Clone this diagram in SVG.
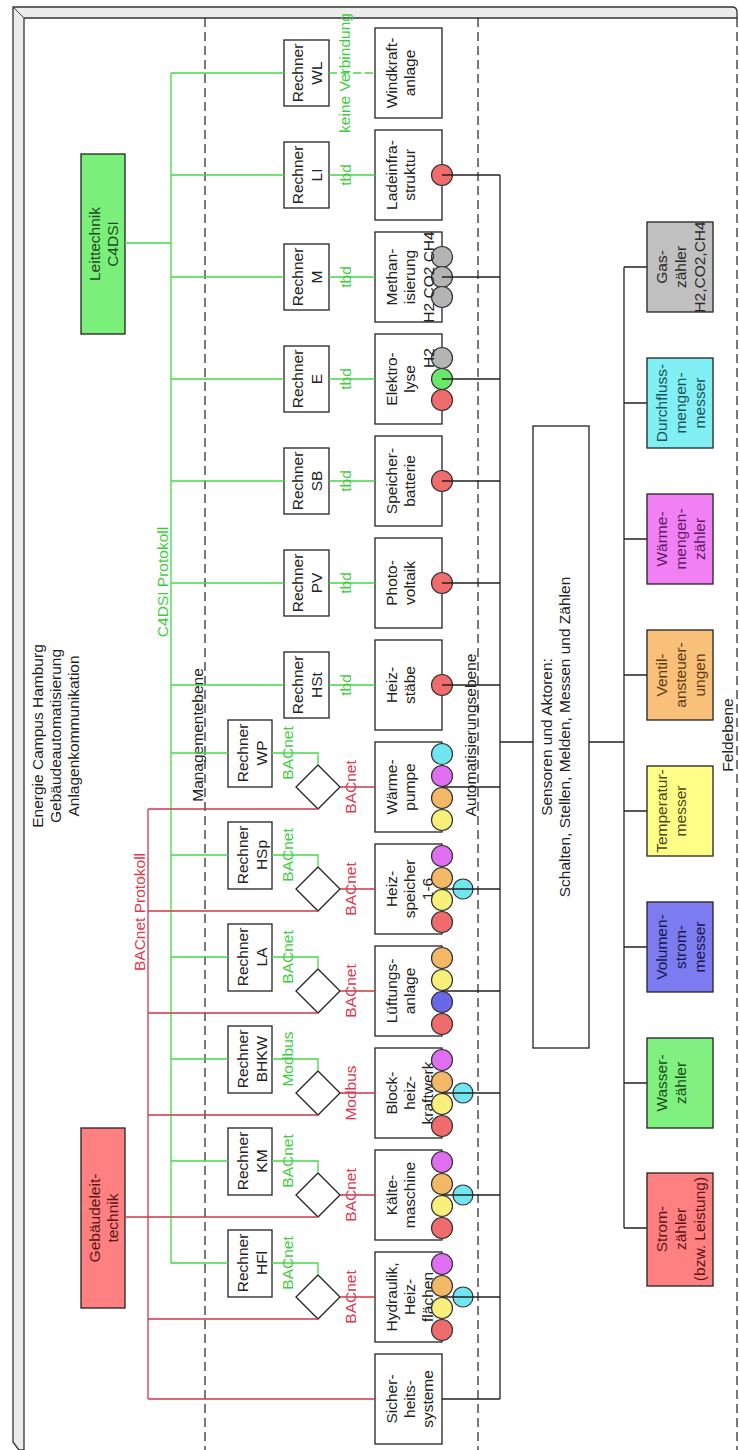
<svg xmlns="http://www.w3.org/2000/svg" width="739" height="1450" viewBox="0 0 739 1450">
<style>
.t{font-family:"Liberation Sans",Arial,sans-serif;font-size:15.5px;fill:#222;text-anchor:middle}
.box{fill:#fff;stroke:#222;stroke-width:1.3}
.cg{fill:none;stroke:#45d845;stroke-width:1.3}
.cr{fill:none;stroke:#cc3a4c;stroke-width:1.3}
.ck{fill:none;stroke:#222;stroke-width:1.3}
.gt{fill:#3fcc3f}
.rt{fill:#e0384c}
.lvl{stroke:#222;stroke-width:1.2;stroke-dasharray:9 5}
.dot{stroke:#333;stroke-width:1.2}
.red{fill:#f06c6c}.ora{fill:#f2b866}.yel{fill:#f8f07a}.mag{fill:#e06ef0}.cya{fill:#70e6f0}.blu{fill:#6868e8}.grn{fill:#6ae86a}.gry{fill:#b4b4b4}
</style>

<!-- page frame -->
<rect x="0" y="0" width="739" height="1450" fill="#fff"/>
<path d="M13,7 H732 Q737,7 737,12 V18 H24 V1450 H19 L13,1442 Z" fill="#ececec" stroke="#333" stroke-width="1.3"/>
<line x1="13" y1="7" x2="24" y2="18" stroke="#444" stroke-width="1"/>
<line x1="737" y1="18" x2="737" y2="1450" class="lvl" stroke-width="1.5"/>

<!-- level separators -->
<line x1="205" y1="18" x2="205" y2="1450" class="lvl"/>
<line x1="478" y1="18" x2="478" y2="1450" class="lvl"/>

<g id="labels">
  <text class="t" transform="rotate(-90)"><tspan x="-736" y="43">Energie Campus Hamburg</tspan><tspan x="-736" y="61">Gebäudeautomatisierung</tspan><tspan x="-736" y="79">Anlagenkommunikation</tspan></text>
  <text class="t" transform="rotate(-90)" x="-735" y="203">Managementebene</text>
  <text class="t" transform="rotate(-90)" x="-735" y="476">Automatisierungsebene</text>
  <text class="t" transform="rotate(-90)" x="-735" y="733">Feldebene</text>
</g>

<!-- head-end systems -->
<g id="leittechnik">
  <rect x="81" y="154" width="44" height="180" fill="#7af07a" stroke="#222" stroke-width="1.3"/>
  <text class="t" transform="rotate(-90)" style="fill:#1d4a1d"><tspan x="-244" y="100">Leittechnik</tspan><tspan x="-244" y="118">C4DSI</tspan></text>
</g>
<g id="gebaeudeleittechnik">
  <rect x="81" y="1128" width="44" height="180" fill="#ff8080" stroke="#222" stroke-width="1.3"/>
  <text class="t" transform="rotate(-90)" style="fill:#5a1414"><tspan x="-1218" y="100">Gebäudeleit-</tspan><tspan x="-1218" y="118">technik</tspan></text>
</g>

<!-- C4DSI computers -->
<g id="rechner-wl"><rect class="box" x="284" y="40" width="45" height="66"/><text class="t" transform="rotate(-90)"><tspan x="-73" y="303">Rechner</tspan><tspan x="-73" y="322">WL</tspan></text></g>
<g id="rechner-li"><rect class="box" x="284" y="142" width="45" height="66"/><text class="t" transform="rotate(-90)"><tspan x="-175" y="303">Rechner</tspan><tspan x="-175" y="322">LI</tspan></text></g>
<g id="rechner-m"><rect class="box" x="284" y="244" width="45" height="66"/><text class="t" transform="rotate(-90)"><tspan x="-277" y="303">Rechner</tspan><tspan x="-277" y="322">M</tspan></text></g>
<g id="rechner-e"><rect class="box" x="284" y="346" width="45" height="66"/><text class="t" transform="rotate(-90)"><tspan x="-379" y="303">Rechner</tspan><tspan x="-379" y="322">E</tspan></text></g>
<g id="rechner-sb"><rect class="box" x="284" y="448" width="45" height="66"/><text class="t" transform="rotate(-90)"><tspan x="-481" y="303">Rechner</tspan><tspan x="-481" y="322">SB</tspan></text></g>
<g id="rechner-pv"><rect class="box" x="284" y="550" width="45" height="66"/><text class="t" transform="rotate(-90)"><tspan x="-583" y="303">Rechner</tspan><tspan x="-583" y="322">PV</tspan></text></g>
<g id="rechner-hst"><rect class="box" x="284" y="652" width="45" height="66"/><text class="t" transform="rotate(-90)"><tspan x="-685" y="303">Rechner</tspan><tspan x="-685" y="322">HSt</tspan></text></g>

<!-- BACnet / Modbus computers -->
<g id="rechner-wp"><rect class="box" x="228" y="720" width="44" height="67"/><text class="t" transform="rotate(-90)"><tspan x="-753" y="248">Rechner</tspan><tspan x="-753" y="267">WP</tspan></text></g>
<g id="rechner-hsp"><rect class="box" x="228" y="822" width="44" height="67"/><text class="t" transform="rotate(-90)"><tspan x="-855" y="248">Rechner</tspan><tspan x="-855" y="267">HSp</tspan></text></g>
<g id="rechner-la"><rect class="box" x="228" y="924" width="44" height="67"/><text class="t" transform="rotate(-90)"><tspan x="-957" y="248">Rechner</tspan><tspan x="-957" y="267">LA</tspan></text></g>
<g id="rechner-bhkw"><rect class="box" x="228" y="1026" width="44" height="67"/><text class="t" transform="rotate(-90)"><tspan x="-1059" y="248">Rechner</tspan><tspan x="-1059" y="267">BHKW</tspan></text></g>
<g id="rechner-km"><rect class="box" x="228" y="1128" width="44" height="67"/><text class="t" transform="rotate(-90)"><tspan x="-1161" y="248">Rechner</tspan><tspan x="-1161" y="267">KM</tspan></text></g>
<g id="rechner-hfl"><rect class="box" x="228" y="1230" width="44" height="67"/><text class="t" transform="rotate(-90)"><tspan x="-1263" y="248">Rechner</tspan><tspan x="-1263" y="267">HFl</tspan></text></g>

<!-- protocol gateways -->
<g id="gateways" class="box">
  <polygon points="318,765 340,787 318,809 296,787"/>
  <polygon points="318,867 340,889 318,911 296,889"/>
  <polygon points="318,969 340,991 318,1013 296,991"/>
  <polygon points="318,1071 340,1093 318,1115 296,1093"/>
  <polygon points="318,1173 340,1195 318,1217 296,1195"/>
  <polygon points="318,1275 340,1297 318,1319 296,1297"/>
</g>

<!-- plants -->
<g id="windkraftanlage"><rect class="box" x="375" y="28" width="67" height="90"/><text class="t" transform="rotate(-90)"><tspan x="-73" y="397">Windkraft-</tspan><tspan x="-73" y="415">anlage</tspan></text></g>
<g id="ladeinfrastruktur"><rect class="box" x="375" y="130" width="67" height="90"/><text class="t" transform="rotate(-90)"><tspan x="-175" y="397">Ladeinfra-</tspan><tspan x="-175" y="415">struktur</tspan></text>
  <circle class="dot red" cx="442" cy="175" r="10.5"/></g>
<g id="methanisierung"><rect class="box" x="375" y="232" width="67" height="90"/>
  <circle class="dot gry" cx="442" cy="257" r="10.5"/><circle class="dot gry" cx="442" cy="277" r="10.5"/><circle class="dot gry" cx="442" cy="297" r="10.5"/>
  <text class="t" transform="rotate(-90)"><tspan x="-277" y="397">Methan-</tspan><tspan x="-277" y="415">isierung</tspan><tspan x="-277" y="434">H2 CO2 CH4</tspan></text></g>
<g id="elektrolyse"><rect class="box" x="375" y="334" width="67" height="90"/>
  <circle class="dot gry" cx="442" cy="358" r="10.5"/><circle class="dot grn" cx="442" cy="379" r="10.5"/><circle class="dot red" cx="442" cy="400" r="10.5"/>
  <text class="t" transform="rotate(-90)"><tspan x="-379" y="397">Elektro-</tspan><tspan x="-379" y="415">lyse</tspan><tspan x="-358" y="434">H2</tspan></text></g>
<g id="speicherbatterie"><rect class="box" x="375" y="436" width="67" height="90"/><text class="t" transform="rotate(-90)"><tspan x="-481" y="397">Speicher-</tspan><tspan x="-481" y="415">batterie</tspan></text>
  <circle class="dot red" cx="442" cy="481" r="10.5"/></g>
<g id="photovoltaik"><rect class="box" x="375" y="538" width="67" height="90"/><text class="t" transform="rotate(-90)"><tspan x="-583" y="397">Photo-</tspan><tspan x="-583" y="415">voltaik</tspan></text>
  <circle class="dot red" cx="442" cy="583" r="10.5"/></g>
<g id="heizstaebe"><rect class="box" x="375" y="640" width="67" height="90"/><text class="t" transform="rotate(-90)"><tspan x="-685" y="397">Heiz-</tspan><tspan x="-685" y="415">stäbe</tspan></text>
  <circle class="dot red" cx="442" cy="685" r="10.5"/></g>
<g id="waermepumpe"><rect class="box" x="375" y="742" width="67" height="90"/><text class="t" transform="rotate(-90)"><tspan x="-787" y="397">Wärme-</tspan><tspan x="-787" y="415">pumpe</tspan></text>
  <circle class="dot cya" cx="442" cy="754" r="10.5"/><circle class="dot mag" cx="442" cy="776" r="10.5"/><circle class="dot ora" cx="442" cy="798" r="10.5"/><circle class="dot yel" cx="442" cy="820" r="10.5"/></g>
<g id="heizspeicher"><rect class="box" x="375" y="844" width="67" height="90"/><text class="t" transform="rotate(-90)"><tspan x="-889" y="397">Heiz-</tspan><tspan x="-889" y="415">speicher</tspan><tspan x="-889" y="433">1-6</tspan></text>
  <circle class="dot mag" cx="442" cy="856" r="10.5"/><circle class="dot ora" cx="442" cy="878" r="10.5"/><circle class="dot yel" cx="442" cy="900" r="10.5"/><circle class="dot red" cx="442" cy="922" r="10.5"/>
  <circle class="dot cya" cx="463" cy="889" r="10"/></g>
<g id="lueftungsanlage"><rect class="box" x="375" y="946" width="67" height="90"/><text class="t" transform="rotate(-90)"><tspan x="-991" y="397">Lüftungs-</tspan><tspan x="-991" y="415">anlage</tspan></text>
  <circle class="dot ora" cx="442" cy="958" r="10.5"/><circle class="dot yel" cx="442" cy="980" r="10.5"/><circle class="dot blu" cx="442" cy="1002" r="10.5"/><circle class="dot red" cx="442" cy="1024" r="10.5"/></g>
<g id="blockheizkraftwerk"><rect class="box" x="375" y="1048" width="67" height="90"/><text class="t" transform="rotate(-90)"><tspan x="-1093" y="397">Block-</tspan><tspan x="-1093" y="415">heiz-</tspan><tspan x="-1093" y="433">kraftwerk</tspan></text>
  <circle class="dot mag" cx="442" cy="1060" r="10.5"/><circle class="dot ora" cx="442" cy="1082" r="10.5"/><circle class="dot yel" cx="442" cy="1104" r="10.5"/><circle class="dot red" cx="442" cy="1126" r="10.5"/>
  <circle class="dot cya" cx="463" cy="1093" r="10"/></g>
<g id="kaeltemaschine"><rect class="box" x="375" y="1150" width="67" height="90"/><text class="t" transform="rotate(-90)"><tspan x="-1195" y="397">Kälte-</tspan><tspan x="-1195" y="415">maschine</tspan></text>
  <circle class="dot mag" cx="442" cy="1162" r="10.5"/><circle class="dot ora" cx="442" cy="1184" r="10.5"/><circle class="dot yel" cx="442" cy="1206" r="10.5"/><circle class="dot red" cx="442" cy="1228" r="10.5"/>
  <circle class="dot cya" cx="463" cy="1195" r="10"/></g>
<g id="hydraulik"><rect class="box" x="375" y="1252" width="67" height="90"/><text class="t" transform="rotate(-90)"><tspan x="-1297" y="397">Hydraulik,</tspan><tspan x="-1297" y="415">Heiz-</tspan><tspan x="-1297" y="433">flächen</tspan></text>
  <circle class="dot mag" cx="442" cy="1264" r="10.5"/><circle class="dot ora" cx="442" cy="1286" r="10.5"/><circle class="dot yel" cx="442" cy="1308" r="10.5"/><circle class="dot red" cx="442" cy="1330" r="10.5"/>
  <circle class="dot cya" cx="463" cy="1297" r="10"/></g>
<g id="sicherheitssysteme"><rect class="box" x="375" y="1354" width="67" height="90"/><text class="t" transform="rotate(-90)"><tspan x="-1399" y="397">Sicher-</tspan><tspan x="-1399" y="415">heits-</tspan><tspan x="-1399" y="433">systeme</tspan></text></g>

<!-- sensors and actuators -->
<g id="sensoren"><rect class="box" x="533" y="426" width="56" height="622"/><text class="t" transform="rotate(-90)"><tspan x="-737" y="552">Sensoren und Aktoren:</tspan><tspan x="-737" y="570">Schalten, Stellen, Melden, Messen und Zählen</tspan></text></g>

<!-- field devices -->
<g id="gaszaehler"><rect x="647" y="222" width="66" height="90" fill="#c0c0c0" stroke="#222" stroke-width="1.3"/><text class="t" transform="rotate(-90)" style="fill:#2a2a2a"><tspan x="-267" y="667">Gas-</tspan><tspan x="-267" y="686">zähler</tspan><tspan x="-267" y="705">H2,CO2,CH4</tspan></text></g>
<g id="durchflussmengenmesser"><rect x="647" y="358" width="66" height="90" fill="#80f0f4" stroke="#222" stroke-width="1.3"/><text class="t" transform="rotate(-90)" style="fill:#1a5458"><tspan x="-403" y="667">Durchfluss-</tspan><tspan x="-403" y="686">mengen-</tspan><tspan x="-403" y="705">messer</tspan></text></g>
<g id="waermemengenzaehler"><rect x="647" y="494" width="66" height="90" fill="#f080f4" stroke="#222" stroke-width="1.3"/><text class="t" transform="rotate(-90)" style="fill:#5e1a62"><tspan x="-539" y="667">Wärme-</tspan><tspan x="-539" y="686">mengen-</tspan><tspan x="-539" y="705">zähler</tspan></text></g>
<g id="ventilansteuerungen"><rect x="647" y="630" width="66" height="90" fill="#f8c078" stroke="#222" stroke-width="1.3"/><text class="t" transform="rotate(-90)" style="fill:#5c3a14"><tspan x="-675" y="667">Ventil-</tspan><tspan x="-675" y="686">ansteuer-</tspan><tspan x="-675" y="705">ungen</tspan></text></g>
<g id="temperaturmesser"><rect x="647" y="766" width="66" height="90" fill="#ffff88" stroke="#222" stroke-width="1.3"/><text class="t" transform="rotate(-90)" style="fill:#4a4818"><tspan x="-811" y="667">Temperatur-</tspan><tspan x="-811" y="686">messer</tspan></text></g>
<g id="volumenstrommesser"><rect x="647" y="902" width="66" height="90" fill="#7c7cf0" stroke="#222" stroke-width="1.3"/><text class="t" transform="rotate(-90)" style="fill:#16164e"><tspan x="-947" y="667">Volumen-</tspan><tspan x="-947" y="686">strom-</tspan><tspan x="-947" y="705">messer</tspan></text></g>
<g id="wasserzaehler"><rect x="647" y="1038" width="66" height="90" fill="#80f080" stroke="#222" stroke-width="1.3"/><text class="t" transform="rotate(-90)" style="fill:#164e16"><tspan x="-1083" y="667">Wasser-</tspan><tspan x="-1083" y="686">zähler</tspan></text></g>
<g id="stromzaehler"><rect x="647" y="1173" width="66" height="113" fill="#ff8080" stroke="#222" stroke-width="1.3"/><text class="t" transform="rotate(-90)" style="fill:#5a1414"><tspan x="-1229" y="667">Strom-</tspan><tspan x="-1229" y="686">zähler</tspan><tspan x="-1229" y="705">(bzw. Leistung)</tspan></text></g>

<!-- connectors -->
<g id="connectors">
  <!-- C4DSI network -->
  <path class="cg" d="M125,243 H171 M171,73 V1263
    M171,73 H284 M171,175 H284 M171,277 H284 M171,379 H284 M171,481 H284 M171,583 H284 M171,685 H284
    M329,175 H375 M329,277 H375 M329,379 H375 M329,481 H375 M329,583 H375 M329,685 H375
    M171,753 H228 M171,855 H228 M171,957 H228 M171,1059 H228 M171,1161 H228 M171,1263 H228
    M272,753 H318 V765 M272,855 H318 V867 M272,957 H318 V969 M272,1059 H318 V1071 M272,1161 H318 V1173 M272,1263 H318 V1275"/>
  <path class="cg" d="M329,73 H375" stroke-dasharray="8 4"/>
  <!-- BACnet network -->
  <path class="cr" d="M125,1217 H148 M148,809 V1399
    M148,809 H318 M148,911 H318 M148,1013 H318 M148,1115 H318 M148,1217 H318 M148,1319 H318
    M340,787 H375 M340,889 H375 M340,991 H375 M340,1093 H375 M340,1195 H375 M340,1297 H375
    M148,1399 H375"/>
  <!-- field bus -->
  <path class="ck" d="M500,175 V1399
    M442,175 H500 M442,277 H500 M442,379 H500 M442,481 H500 M442,583 H500 M442,685 H500
    M442,787 H500 M442,889 H500 M442,991 H500 M442,1093 H500 M442,1195 H500 M442,1297 H500 M442,1399 H500
    M500,742 H533 M589,742 H624 M624,267 V1228
    M624,267 H647 M624,403 H647 M624,539 H647 M624,675 H647 M624,811 H647 M624,947 H647 M624,1083 H647 M624,1228 H647"/>

  <!-- connector labels -->
  <text class="t gt" transform="rotate(-90)" x="-582" y="168">C4DSI Protokoll</text>
  <text class="t rt" transform="rotate(-90)" x="-912" y="145">BACnet Protokoll</text>
  <text class="t gt" transform="rotate(-90)" x="-73" y="350">keine Verbindung</text>
  <g class="t gt">
    <text transform="rotate(-90)" x="-175" y="351">tbd</text>
    <text transform="rotate(-90)" x="-277" y="351">tbd</text>
    <text transform="rotate(-90)" x="-379" y="351">tbd</text>
    <text transform="rotate(-90)" x="-481" y="351">tbd</text>
    <text transform="rotate(-90)" x="-583" y="351">tbd</text>
    <text transform="rotate(-90)" x="-685" y="351">tbd</text>
    <text transform="rotate(-90)" x="-753" y="293">BACnet</text>
    <text transform="rotate(-90)" x="-855" y="293">BACnet</text>
    <text transform="rotate(-90)" x="-957" y="293">BACnet</text>
    <text transform="rotate(-90)" x="-1059" y="293">Modbus</text>
    <text transform="rotate(-90)" x="-1161" y="293">BACnet</text>
    <text transform="rotate(-90)" x="-1263" y="293">BACnet</text>
  </g>
  <g class="t rt">
    <text transform="rotate(-90)" x="-787" y="356">BACnet</text>
    <text transform="rotate(-90)" x="-889" y="356">BACnet</text>
    <text transform="rotate(-90)" x="-991" y="356">BACnet</text>
    <text transform="rotate(-90)" x="-1093" y="356">Modbus</text>
    <text transform="rotate(-90)" x="-1195" y="356">BACnet</text>
    <text transform="rotate(-90)" x="-1297" y="356">BACnet</text>
  </g>
</g>
</svg>
